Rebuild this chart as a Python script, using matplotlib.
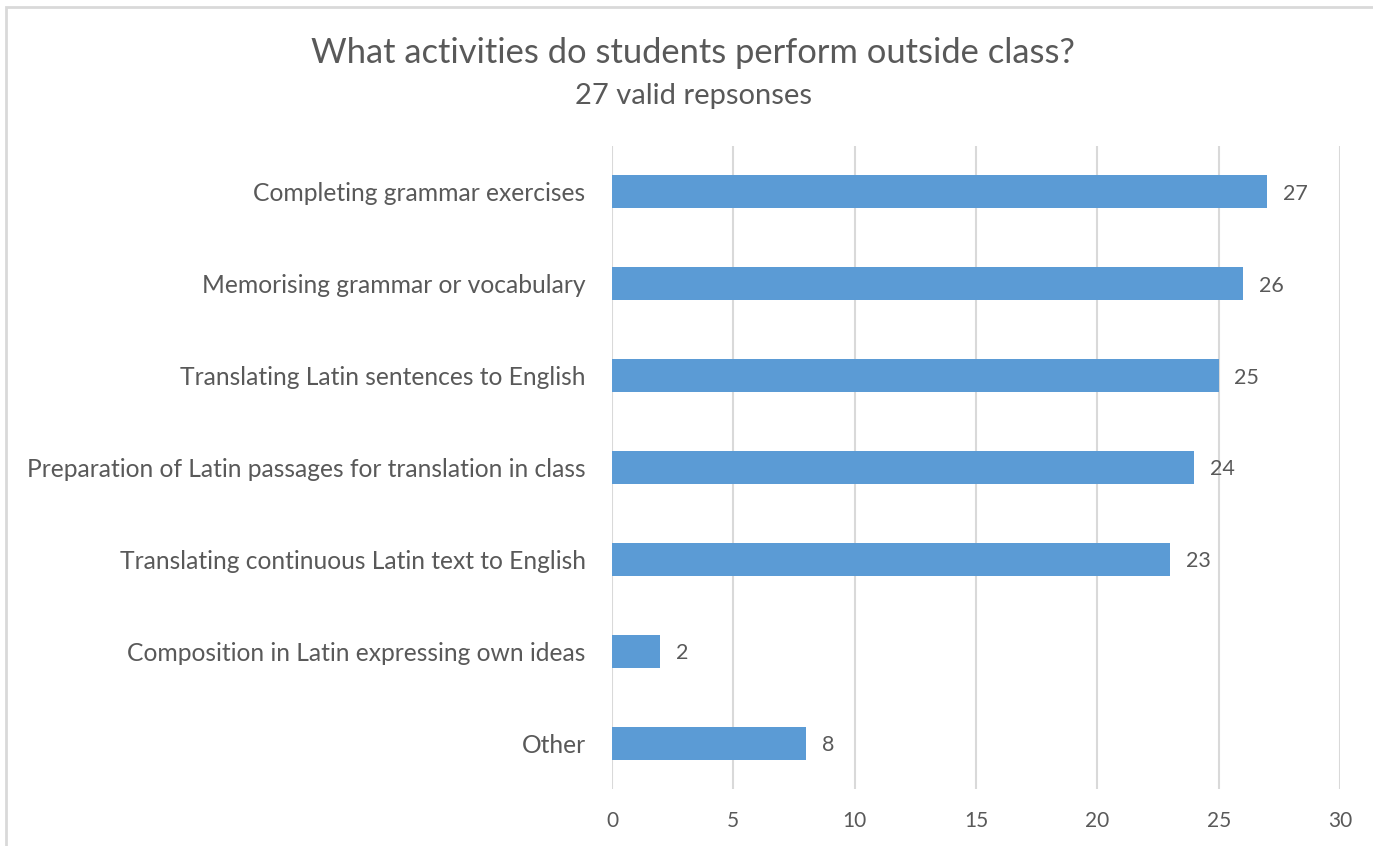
import matplotlib.pyplot as plt
from matplotlib.patches import Rectangle

# survey results, listed top to bottom
activities = [
    "Completing grammar exercises",
    "Memorising grammar or vocabulary",
    "Translating Latin sentences to English",
    "Preparation of Latin passages for translation in class",
    "Translating continuous Latin text to English",
    "Composition in Latin expressing own ideas",
    "Other",
]
counts = [27, 26, 25, 24, 23, 2, 8]
x_ticks = [0, 5, 10, 15, 20, 25, 30]

text_col = "#595959"
bar_col = "#5B9BD5"
grid_col = "#D9D9D9"

plt.rcParams["font.family"] = ["Lato", "DejaVu Sans"]

fig = plt.figure(figsize=(13.73, 8.46), dpi=100)
ax = fig.add_axes([0.4457, 0.0674, 0.5303, 0.760])

# chart frame, only top and left edges visible
fig.patches.append(Rectangle((6 / 1373, -0.1), 1.2, (846 - 7) / 846 + 0.1,
                             transform=fig.transFigure, fill=False,
                             edgecolor=grid_col, linewidth=2))

ypos = list(range(len(activities)))
ax.barh(ypos, counts, height=0.36, color=bar_col, zorder=3)
for y, c in zip(ypos, counts):
    ax.text(c + 0.65, y, str(c), va="center_baseline", ha="left",
            fontsize=15.5, color=text_col)

ax.set_ylim(len(activities) - 0.5, -0.5)
ax.set_xlim(0, 30)
ax.set_yticks(ypos)
ax.set_yticklabels(activities, fontsize=17.7, color=text_col)
ax.set_xticks(x_ticks)
ax.set_xticklabels([str(t) for t in x_ticks], fontsize=15, color=text_col)
ax.tick_params(axis="both", length=0)
ax.tick_params(axis="y", pad=19)
ax.tick_params(axis="x", pad=16)
ax.xaxis.grid(True, color=grid_col, linewidth=1.5, zorder=0)
for s in ax.spines.values():
    s.set_visible(False)

fig.text(0.505, 0.937, "What activities do students perform outside class?",
         ha="center", va="center", fontsize=24.8, color=text_col)
fig.text(0.505, 0.886, "27 valid repsonses", ha="center", va="center",
         fontsize=21, color=text_col)

fig.savefig("out.png", dpi=100, facecolor="white")
